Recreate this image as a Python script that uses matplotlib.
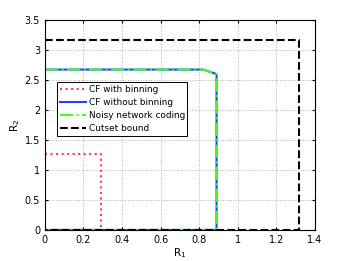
import matplotlib
matplotlib.use("Agg")
import matplotlib.pyplot as plt

# region boundaries (R1, R2)
cf_bin_r1 = [0, 0.29, 0.29, 0]
cf_bin_r2 = [1.265, 1.265, 0, 0]

cf_nobin_r1 = [0, 0.82, 0.89, 0.89, 0]
cf_nobin_r2 = [2.675, 2.675, 2.6, 0, 0]

nnc_r1 = [0, 0.82, 0.89, 0.89, 0]
nnc_r2 = [2.675, 2.675, 2.6, 0, 0]

cutset_r1 = [0, 1.317, 1.317, 0]
cutset_r2 = [3.175, 3.175, 0, 0]

fig = plt.figure(figsize=(3.48, 2.61), dpi=100)
ax = fig.add_axes([0.129, 0.119, 0.776, 0.804])

ax.plot(cf_bin_r1, cf_bin_r2, ':', color='#ff4040', lw=1.5, label='CF with binning')
ax.plot(cf_nobin_r1, cf_nobin_r2, '-', color='#1f3fff', lw=1.5, label='CF without binning')
ax.plot(nnc_r1, nnc_r2, '-.', color='#40ff20', lw=1.5, label='Noisy network coding')
ax.plot(cutset_r1, cutset_r2, '--', color='black', lw=1.5, label='Cutset bound')

ax.set_xlim(0, 1.4)
ax.set_ylim(0, 3.5)
ax.set_xticks([0, 0.2, 0.4, 0.6, 0.8, 1, 1.2, 1.4])
ax.set_xticklabels(['0', '0.2', '0.4', '0.6', '0.8', '1', '1.2', '1.4'])
ax.set_yticks([0, 0.5, 1, 1.5, 2, 2.5, 3, 3.5])
ax.set_yticklabels(['0', '0.5', '1', '1.5', '2', '2.5', '3', '3.5'])
ax.tick_params(labelsize=7, direction='in', length=2, top=True, right=True)
ax.grid(True, linestyle=':', color='#b0b0b0', lw=0.7)
ax.set_xlabel('R$_1$', fontsize=7.5, labelpad=1)
ax.set_ylabel('R$_2$', fontsize=7.5, labelpad=2)

leg = ax.legend(loc='upper left', bbox_to_anchor=(0.03, 0.725), fontsize=6.4,
                frameon=True, fancybox=False, edgecolor='black', framealpha=1,
                handlelength=2.9, handletextpad=0.3, labelspacing=0.45, borderpad=0.3)
leg.get_frame().set_linewidth(0.7)

fig.savefig('out.png', dpi=100)
